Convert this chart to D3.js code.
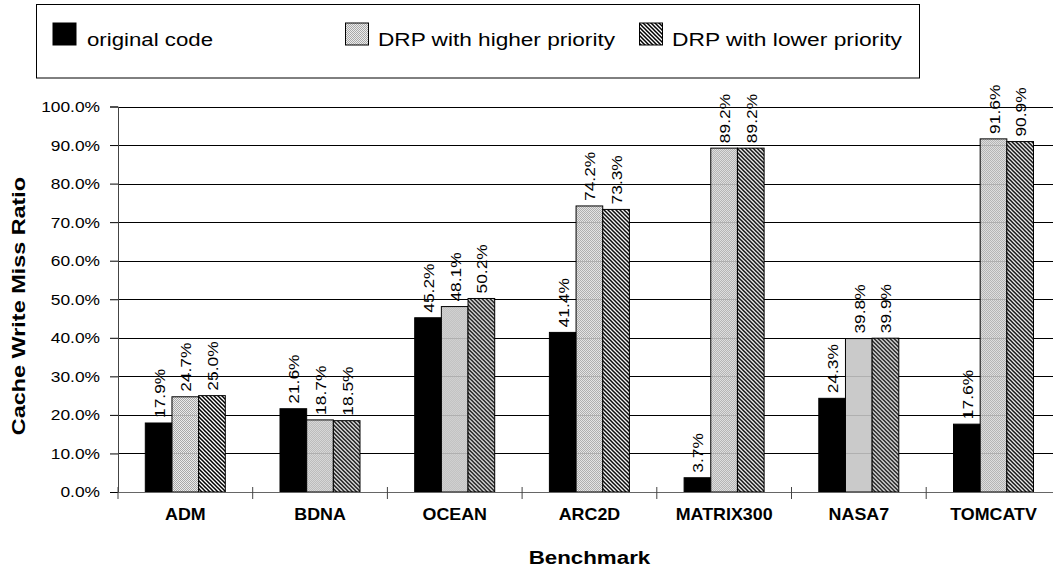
<!DOCTYPE html>
<html>
<head>
<meta charset="utf-8">
<script src="https://cdn.jsdelivr.net/npm/d3@7"></script>
<style>
  html, body { margin: 0; padding: 0; background: #fff; }
  svg { display: block; }
  svg text { font-family: "Liberation Sans", Arial, sans-serif; }
</style>
</head>
<body>
<svg id="chart" width="1053" height="573"></svg>
<script>
// Benchmarks and cache write miss ratios (fractions)
const categories = ["ADM", "BDNA", "OCEAN", "ARC2D", "MATRIX300", "NASA7", "TOMCATV"];
const seriesNames = ["original code", "DRP with higher priority", "DRP with lower priority"];
const originalCode = [0.179, 0.216, 0.452, 0.414, 0.037, 0.243, 0.176];
const drpHigher    = [0.247, 0.187, 0.481, 0.742, 0.892, 0.398, 0.916];
const drpLower     = [0.250, 0.185, 0.502, 0.733, 0.892, 0.399, 0.909];
const yTicks = [0, 0.1, 0.2, 0.3, 0.4, 0.5, 0.6, 0.7, 0.8, 0.9, 1.0];

const seriesValues = [originalCode, drpHigher, drpLower];

const svg = d3.select("#chart");
const defs = svg.append("defs");

// light dotted gray fill
const pGray = defs.append("pattern").attr("id", "pGray")
  .attr("patternUnits", "userSpaceOnUse").attr("width", 2).attr("height", 2);
pGray.append("rect").attr("width", 2).attr("height", 2).attr("fill", "#e6e6e6").attr("fill-opacity", 0.8);
pGray.append("rect").attr("x", 0).attr("y", 0).attr("width", 1).attr("height", 1).attr("fill", "#a8a8a8");
pGray.append("rect").attr("x", 1).attr("y", 1).attr("width", 1).attr("height", 1).attr("fill", "#a8a8a8");

// dense diagonal hatch
const pHatch = defs.append("pattern").attr("id", "pHatch")
  .attr("patternUnits", "userSpaceOnUse").attr("width", 4).attr("height", 4);
pHatch.append("rect").attr("width", 4).attr("height", 4).attr("fill", "#fff");
pHatch.append("path").attr("d", "M-1,-1 L5,5 M-1,3 L1,5 M3,-1 L5,1")
  .attr("stroke", "#000").attr("stroke-width", 1.5);

const fills = ["#000", "url(#pGray)", "url(#pHatch)"];

const plotLeft = 118, plotTop = 106.5, plotBottom = 492;
const step = 134.7;

const x = d3.scaleBand().domain(categories)
  .range([plotLeft, plotLeft + step * categories.length]).padding(0);
const xs = d3.scaleBand().domain(d3.range(seriesNames.length))
  .range([27.3, 107.3]).padding(0);
const y = d3.scaleLinear().domain([0, 1]).range([plotBottom, plotTop]);

// stretch text horizontally along its reading direction
function stretch(sel, factor) {
  sel.each(function () {
    const len = this.getComputedTextLength();
    d3.select(this).attr("textLength", len * factor).attr("lengthAdjust", "spacingAndGlyphs");
  });
}

// horizontal gridlines
svg.append("g").selectAll("line").data(yTicks.slice(1)).join("line")
  .attr("x1", plotLeft).attr("x2", 1053)
  .attr("y1", d => Math.round(y(d)) + 0.5).attr("y2", d => Math.round(y(d)) + 0.5)
  .attr("stroke", "#000").attr("stroke-width", 1);

// bars
const groups = svg.append("g").selectAll("g").data(categories).join("g")
  .attr("transform", d => `translate(${x(d)},0)`);

seriesValues.forEach((vals, si) => {
  groups.append("rect")
    .attr("x", (d, i) => xs(si))
    .attr("width", xs.bandwidth())
    .attr("y", (d, i) => y(vals[i]))
    .attr("height", (d, i) => y(0) - y(vals[i]))
    .attr("fill", fills[si])
    .attr("stroke", "#000").attr("stroke-width", 1);
});

// value labels
const fmt = d3.format(".1%");
seriesValues.forEach((vals, si) => {
  const t = groups.append("text")
    .attr("transform", (d, i) => `translate(${xs(si) + xs.bandwidth() / 2 + 6},${y(vals[i]) - 5}) rotate(-90)`)
    .attr("font-size", 15.5).attr("fill", "#000")
    .text((d, i) => fmt(vals[i]));
  stretch(t, 1.12);
});

// y axis
const yAxis = svg.append("g").attr("transform", `translate(${plotLeft},0)`)
  .call(d3.axisLeft(y).tickValues(yTicks).tickFormat(d3.format(".1%")).tickSize(8).tickPadding(10));
yAxis.select(".domain").attr("stroke", "#444");
yAxis.selectAll(".tick line").attr("stroke", "#000");
yAxis.selectAll("text").attr("font-size", 15.5).attr("font-family", null).attr("fill", "#000");
stretch(yAxis.selectAll("text"), 1.12);

// x axis with category labels
const xAxis = svg.append("g").attr("transform", `translate(0,${plotBottom})`)
  .call(d3.axisBottom(x).tickSize(0).tickPadding(16));
xAxis.select(".domain").attr("stroke", "#666").attr("d", `M${plotLeft},0.5H1053`);
xAxis.selectAll("text").attr("font-size", 17).attr("font-weight", "bold")
  .attr("font-family", null).attr("fill", "#000");
stretch(xAxis.selectAll("text"), 1.05);

// boundary ticks between categories
svg.append("g").selectAll("line")
  .data(categories.map(c => x(c)).filter(v => v <= 1053))
  .join("line")
  .attr("x1", d => d).attr("x2", d => d)
  .attr("y1", plotBottom - 5).attr("y2", plotBottom + 7)
  .attr("stroke", "#444").attr("stroke-width", 1);

// axis titles
const xTitle = svg.append("text").attr("x", (plotLeft + plotLeft + step * 7) / 2).attr("y", 564)
  .attr("text-anchor", "middle").attr("font-size", 18).attr("font-weight", "bold")
  .text("Benchmark");
stretch(xTitle, 1.24);

const yTitle = svg.append("text").attr("transform", "translate(25,306) rotate(-90)")
  .attr("text-anchor", "middle").attr("font-size", 18).attr("font-weight", "bold")
  .text("Cache Write Miss Ratio");
stretch(yTitle, 1.3);

// legend
const legend = svg.append("g");
legend.append("rect").attr("x", 36.5).attr("y", 4.5).attr("width", 883).attr("height", 73.5)
  .attr("fill", "#fff").attr("stroke", "#000").attr("stroke-width", 1);
const legendItems = [
  { sx: 53, tx: 87, w: 126 },
  { sx: 345.5, tx: 378, w: 237 },
  { sx: 639.5, tx: 672, w: 230 }
];
seriesNames.forEach((name, i) => {
  const it = legendItems[i];
  legend.append("rect").attr("x", it.sx).attr("y", 23).attr("width", 23).attr("height", 22)
    .attr("fill", fills[i]).attr("stroke", "#000").attr("stroke-width", 1);
  legend.append("text").attr("x", it.tx).attr("y", 45.5).attr("font-size", 17.5)
    .attr("textLength", it.w).attr("lengthAdjust", "spacingAndGlyphs")
    .text(name);
});
</script>
</body>
</html>
